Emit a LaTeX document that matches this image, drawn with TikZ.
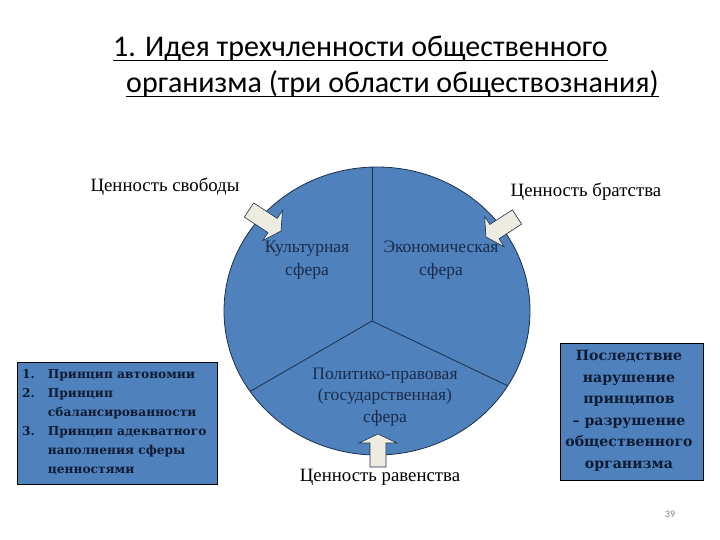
\documentclass[tikz,border=0pt]{standalone}
\usepackage{fontspec}
\setmainfont{Liberation Serif}
\newfontfamily\calib{Carlito}
\newfontfamily\boxfont{DejaVu Serif}
\usetikzlibrary{calc}
\definecolor{secblue}{HTML}{4F81BD}
\definecolor{edgeblue}{HTML}{1C2F4A}
\definecolor{navytext}{HTML}{1A2B4A}
\definecolor{boxtext}{HTML}{0E1B33}
\definecolor{beige}{HTML}{EEECE1}
\tikzset{
  sector/.style={font=\fontsize{17.5}{23}\selectfont, text=navytext, align=center, inner sep=0pt},
  valuelabel/.style={font=\fontsize{18.8}{22}\selectfont, text=black, inner sep=0pt},
  infobox/.style={draw=black, line width=0.8pt, fill=secblue},
  blockarrow/.style={draw=edgeblue, line width=0.6pt, fill=beige, line join=miter},
  titletext/.style={font=\calib\fontsize{30}{36}\selectfont, text=black, inner sep=0pt, anchor=base west},
  titleline/.style={line width=1.6pt, black}
}
% block arrow: tail, tip, shaft half width, head half width, head length (numbers, pt)
\newcommand{\blockarr}[5]{%
  \draw[blockarrow]
    ($(#1)!#3pt!90:(#2)$) --
    ($($(#2)!#5pt!(#1)$)!#3pt!90:(#2)$) --
    ($($(#2)!#5pt!(#1)$)!#4pt!90:(#2)$) --
    (#2) --
    ($($(#2)!#5pt!(#1)$)!#4pt!-90:(#2)$) --
    ($($(#2)!#5pt!(#1)$)!#3pt!-90:(#2)$) --
    ($(#1)!#3pt!-90:(#2)$) -- cycle;}
\begin{document}
\begin{tikzpicture}[x=1pt,y=-1pt]
\useasboundingbox (0,0) rectangle (720,540);

% title
\node[titletext] (t1) at (113,57) {1. Идея трехчленности общественного};
\node[titletext] (t2) at (126,93) {организма (три области обществознания)};
\draw[titleline] ([yshift=-3.5pt]t1.base west) -- ([yshift=-3.5pt]t1.base east);
\draw[titleline] ([yshift=-3.5pt]t2.base west) -- ([yshift=-3.5pt]t2.base east);

% circle with sectors
\coordinate (c) at (377,311);
\coordinate (o) at (372,321);
\draw[draw=edgeblue, line width=0.8pt, fill=secblue] (c) ellipse [x radius=153pt, y radius=144pt];
\begin{scope}
  \clip (c) ellipse [x radius=153pt, y radius=144pt];
  \coordinate (dtop) at (372,100);
  \coordinate (dleft) at (199,421);
  \coordinate (dright) at (552,407);
  \draw[edgeblue, line width=0.8pt] (o) -- (dtop);
  \draw[edgeblue, line width=0.8pt] (o) -- (dleft);
  \draw[edgeblue, line width=0.8pt] (o) -- (dright);
\end{scope}

\node[sector] (cult) at (307,260) {Культурная\\сфера};
\node[sector] (econ) at (441,260) {Экономическая\\сфера};
\node[sector, font=\fontsize{17.5}{21.5}\selectfont] (pol) at (385,397) {Политико-правовая\\(государственная)\\сфера};

% value labels
\node[valuelabel] (free) at (165,187) {Ценность свободы};
\node[valuelabel] (broth) at (586,192) {Ценность братства};
\node[valuelabel] (eq) at (380,477) {Ценность равенства};

% block arrows
\coordinate (a1t) at (249,210);
\coordinate (a1p) at (281,231);
\blockarr{a1t}{a1p}{8.5}{18}{10}
\coordinate (a2t) at (517,217);
\coordinate (a2p) at (486,237);
\blockarr{a2t}{a2p}{8.5}{18}{10}
\coordinate (a3t) at (378,467);
\coordinate (a3p) at (378,434);
\blockarr{a3t}{a3p}{8}{19}{9}

% left box
\node[infobox, minimum width=200pt, minimum height=122pt, inner sep=0pt] (lbox) at (117,423) {};
\node[inner sep=0pt, anchor=north west, text=boxtext, font=\boxfont\bfseries\fontsize{12.2}{19}\selectfont] (ltext) at (22,365)
{\begin{tabular}{@{}l@{\hspace{13pt}}l@{}}
1. & Принцип автономии\\
2. & Принцип\\
   & сбалансированности\\
3. & Принцип адекватного\\
   & наполнения сферы\\
   & ценностями
\end{tabular}};

% right box
\node[infobox, minimum width=143pt, minimum height=137pt, inner sep=0pt] (rbox) at (631.5,411.5) {};
\node[inner sep=0pt, align=center, text=boxtext, font=\boxfont\bfseries\fontsize{14.1}{21.5}\selectfont] (rtext) at (629,411)
{Последствие\\нарушение\\принципов\\– разрушение\\общественного\\организма};

% page number
\node[inner sep=0pt, text=gray, font=\calib\fontsize{10}{12}\selectfont] (pg) at (670,514) {39};
\end{tikzpicture}
\end{document}
